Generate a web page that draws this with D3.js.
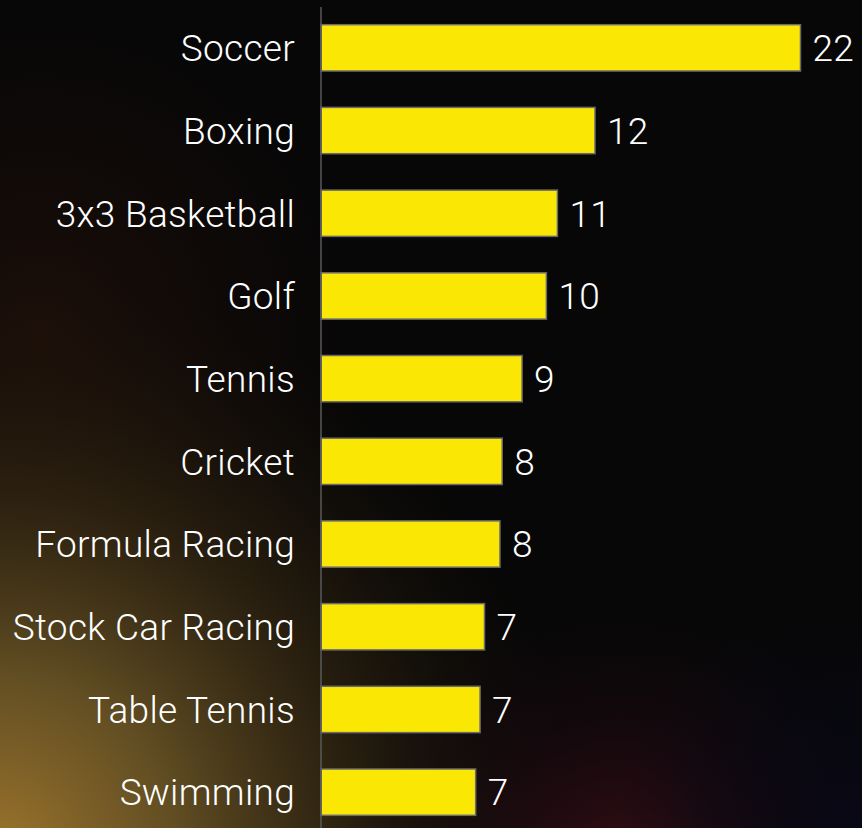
<!DOCTYPE html>
<html>
<head>
<meta charset="utf-8">
<script src="https://cdn.jsdelivr.net/npm/d3@7"></script>
<style>
    html, body { margin: 0; padding: 0; background: #070707; }
    svg { display: block; }
    .label { fill: #ffffff; font-family: Roboto, "Noto Sans", sans-serif; font-size: 37px; font-weight: 300; letter-spacing: 0.3px; }
</style>
</head>
<body>
<div id="chart"></div>
<script>
var sports = ["Soccer", "Boxing", "3x3 Basketball", "Golf", "Tennis", "Cricket",
    "Formula Racing", "Stock Car Racing", "Table Tennis", "Swimming"];
var shares = [21.7, 12.4, 10.7, 10.2, 9.1, 8.2, 8.1, 7.4, 7.2, 7.0];

var width = 862, height = 828;
var axisX = 321;

var data = sports.map(function(s, i) { return {sport: s, value: shares[i]}; });

var svg = d3.select("#chart").append("svg")
    .attr("width", width)
    .attr("height", height);

// background glow
var defs = svg.append("defs");
function glow(id, cx, cy, r, stops) {
    var g = defs.append("radialGradient")
        .attr("id", id)
        .attr("gradientUnits", "userSpaceOnUse")
        .attr("cx", cx).attr("cy", cy).attr("r", r);
    stops.forEach(function(s) {
        g.append("stop").attr("offset", s[0]).attr("stop-color", s[1]).attr("stop-opacity", s[2]);
    });
}
glow("gold", 0, 850, 580, [[0, "#9c742c", 1], [0.3, "#6c5626", 0.9], [0.6, "#3a2c14", 0.7], [1, "#1a1008", 0]]);
glow("rust", 40, 330, 330, [[0, "#24120a", 0.7], [1, "#1a0c08", 0]]);
glow("wine", 620, 870, 280, [[0, "#3e1018", 0.85], [0.5, "#220a12", 0.5], [1, "#100810", 0]]);
glow("navy", 862, 828, 240, [[0, "#08081a", 0.7], [1, "#08081a", 0]]);

svg.append("rect").attr("width", width).attr("height", height).attr("fill", "#070707");
["rust", "gold", "wine", "navy"].forEach(function(id) {
    svg.append("rect").attr("width", width).attr("height", height).attr("fill", "url(#" + id + ")");
});

var x = d3.scaleLinear()
    .domain([0, 21.7])
    .range([axisX, 800.5]);

var y = d3.scaleBand()
    .domain(sports)
    .range([6.5, 833.5])
    .paddingInner(0.44)
    .paddingOuter(0.22);

svg.selectAll(".bar")
    .data(data)
    .enter()
    .append("rect")
    .attr("class", "bar")
    .attr("x", x(0))
    .attr("y", function(d) { return y(d.sport); })
    .attr("width", function(d) { return x(d.value) - x(0); })
    .attr("height", y.bandwidth())
    .attr("fill", "#fae804")
    .attr("stroke", "#6a6a6a")
    .attr("stroke-width", 1.5);

// category axis line
svg.append("line")
    .attr("x1", axisX).attr("x2", axisX)
    .attr("y1", 7).attr("y2", height)
    .attr("stroke", "#5a5a5a")
    .attr("stroke-width", 1.5);

svg.selectAll(".cat")
    .data(data)
    .enter()
    .append("text")
    .attr("class", "label cat")
    .attr("x", axisX - 26)
    .attr("y", function(d) { return y(d.sport) + y.bandwidth() / 2; })
    .attr("dy", "0.36em")
    .style("text-anchor", "end")
    .text(function(d) { return d.sport; });

svg.selectAll(".val")
    .data(data)
    .enter()
    .append("text")
    .attr("class", "label val")
    .attr("x", function(d) { return x(d.value) + 12; })
    .attr("y", function(d) { return y(d.sport) + y.bandwidth() / 2; })
    .attr("dy", "0.36em")
    .text(function(d) { return Math.round(d.value); });
</script>
</body>
</html>
